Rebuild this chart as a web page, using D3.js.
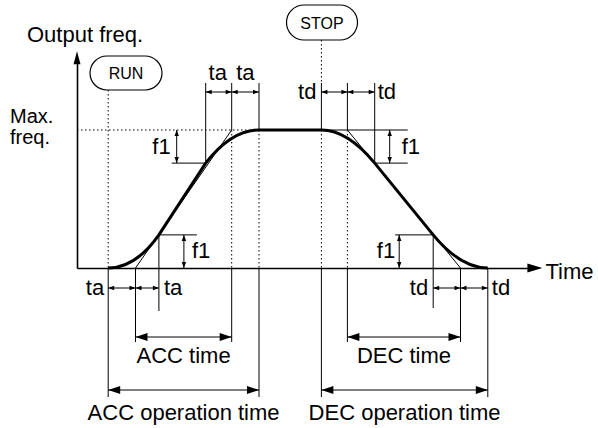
<!DOCTYPE html>
<html>
<head>
<meta charset="utf-8">
<script src="https://cdn.jsdelivr.net/npm/d3@7"></script>
<style>
  body { margin: 0; background: #fff; }
  text { font-family: "Liberation Sans", Arial, Helvetica, sans-serif; fill: #000; }
</style>
</head>
<body>
<svg id="chart" width="598" height="428"></svg>
<script>
// key time points (ta = td = 1 unit) and frequency levels (% of max)
const accTimes = [0, 1.05, 1.95, 3.75, 4.75, 5.8];     // RUN, foot, f1, max-f1, corner, max reached
const accFreq  = [0, 0, 24, 76, 100, 100];
const decTimes = [8.2, 9.2, 10.25, 12.5, 13.55, 14.6]; // STOP, corner, max-f1, f1, foot, stopped
const decFreq  = [100, 100, 76, 24, 0, 0];
const f1 = 24;
const maxFreq = 100;

const axisLabels = ["Output freq.", "Time"];
const maxLabel = ["Max.", "freq."];
const cmdLabels = ["RUN", "STOP"];
const spanLabels = ["ACC time", "DEC time", "ACC operation time", "DEC operation time"];

const svg = d3.select("#chart");
const width = 598, height = 428;

const x = d3.scaleLinear().domain([-1.2, 16.8]).range([77, 545]);
const y = d3.scaleLinear().domain([0, maxFreq]).range([268, 130]);

// layout rows (px)
const topTick = 83, topDim = 92;
const rowTa = 288, rowTime = 337, rowOp = 390;
const endTa = 311, endTime = 342, endOp = 397;

function seg(x1, y1, x2, y2, w, dash) {
    svg.append("line")
       .attr("x1", x1).attr("y1", y1).attr("x2", x2).attr("y2", y2)
       .attr("stroke", "#000")
       .attr("stroke-width", w || 1)
       .attr("stroke-dasharray", dash || null);
}
const dot = "1.5,2.5";

function head(tx, ty, dx, dy, len, hw) {
    // triangle with tip at (tx,ty) pointing along (dx,dy)
    const bx = tx - dx * len, by = ty - dy * len;
    const px = -dy * hw, py = dx * hw;
    svg.append("path")
       .attr("d", `M${tx},${ty}L${bx + px},${by + py}L${bx - px},${by - py}Z`)
       .attr("fill", "#000");
}

function hDim(xa, xb, yy, len, hw) {
    seg(xa, yy, xb, yy, 1);
    head(xa, yy, -1, 0, len, hw);
    head(xb, yy, 1, 0, len, hw);
}
function vDim(xx, ya, yb) {
    seg(xx, ya, xx, yb, 1);
    head(xx, ya, 0, -1, 6, 2.2);
    head(xx, yb, 0, 1, 6, 2.2);
}

function label(txt, tx, ty, anchor, size) {
    svg.append("text")
       .attr("x", tx).attr("y", ty)
       .attr("text-anchor", anchor || "start")
       .style("font-size", (size || 22) + "px")
       .text(txt);
}

// axes (no ticks, only the domain line)
const xAxisEnd = x(16.7);
const xAxis = svg.append("g")
    .attr("transform", `translate(0,${y(0)})`)
    .call(d3.axisBottom(d3.scaleLinear().range([x(-1.2), xAxisEnd - 8])).tickValues([]).tickSizeOuter(0));
const yAxis = svg.append("g")
    .attr("transform", `translate(${x(-1.2)},0)`)
    .call(d3.axisLeft(d3.scaleLinear().range([y(0), y(157) + 8])).tickValues([]).tickSizeOuter(0));
svg.selectAll(".domain").attr("stroke", "#000").attr("stroke-width", 1.6);
head(xAxisEnd, y(0), 1, 0, 15, 4.5);
head(x(-1.2), y(157), 0, -1, 13, 3.5);

label(axisLabels[0], 27, 42);
label(axisLabels[1], xAxisEnd + 3, y(0) + 11);
label(maxLabel[0], 10, 123, "start", 20);
label(maxLabel[1], 10, 144, "start", 20);

// max frequency dotted guide
seg(x(-1.2), y(maxFreq), x(accTimes[5]), y(maxFreq), 1, dot);

// RUN / STOP commands
const boxes = [
    {t: accTimes[0], cx: 126, top: 56, bottom: 90, w: 72},
    {t: decTimes[0], cx: 322, top: 5, bottom: 40, w: 71}
];
boxes.forEach((b, i) => {
    const h = b.bottom - b.top;
    svg.append("rect")
       .attr("x", b.cx - b.w / 2).attr("y", b.top)
       .attr("width", b.w).attr("height", h)
       .attr("rx", h / 2).attr("ry", h / 2)
       .attr("fill", "none").attr("stroke", "#000").attr("stroke-width", 1.2);
    label(cmdLabels[i], b.cx, (b.top + b.bottom) / 2 + 6, "middle", 16);
});

// guide lines: ACC side
seg(x(accTimes[0]), 90, x(accTimes[0]), y(0), 1, dot);
seg(x(accTimes[0]), y(0), x(accTimes[0]), endOp, 1);
seg(x(accTimes[1]), y(0), x(accTimes[1]), endTime, 1);
seg(x(accTimes[2]), y(f1), x(accTimes[2]), endTa, 1);
seg(x(accTimes[3]), topTick, x(accTimes[3]), y(maxFreq - f1), 1);
seg(x(accTimes[4]), topTick, x(accTimes[4]), y(maxFreq), 1);
seg(x(accTimes[4]), y(maxFreq), x(accTimes[4]), y(0), 1, dot);
seg(x(accTimes[4]), y(0), x(accTimes[4]), endTime, 1);
seg(x(accTimes[5]), topTick, x(accTimes[5]), y(maxFreq), 1);
seg(x(accTimes[5]), y(maxFreq), x(accTimes[5]), y(0), 1, dot);
seg(x(accTimes[5]), y(0), x(accTimes[5]), endOp, 1);

// guide lines: DEC side
seg(x(decTimes[0]), 40, x(decTimes[0]), topTick, 1, dot);
seg(x(decTimes[0]), topTick, x(decTimes[0]), y(maxFreq), 1);
seg(x(decTimes[0]), y(maxFreq), x(decTimes[0]), y(0), 1, dot);
seg(x(decTimes[0]), y(0), x(decTimes[0]), endOp, 1);
seg(x(decTimes[1]), topTick, x(decTimes[1]), y(maxFreq), 1);
seg(x(decTimes[1]), y(maxFreq), x(decTimes[1]), y(0), 1, dot);
seg(x(decTimes[1]), y(0), x(decTimes[1]), endTime, 1);
seg(x(decTimes[2]), topTick, x(decTimes[2]), y(maxFreq - f1), 1);
seg(x(decTimes[3]), y(f1), x(decTimes[3]), endTa - 3, 1);
seg(x(decTimes[4]), y(0), x(decTimes[4]), endTime, 1);
seg(x(decTimes[5]), y(0), x(decTimes[5]), endOp, 1);

// f1 markers
seg(x(accTimes[3]) - 34, y(maxFreq - f1), x(accTimes[3]), y(maxFreq - f1), 1);
vDim(x(accTimes[3]) - 29, y(maxFreq), y(maxFreq - f1));
label("f1", x(accTimes[3]) - 35, y(maxFreq - f1 / 2) + 7, "end");

seg(x(accTimes[2]), y(f1), x(accTimes[2]) + 38, y(f1), 1);
vDim(x(accTimes[2]) + 25, y(f1), y(0));
label("f1", x(accTimes[2]) + 33, y(f1 / 2) + 7, "start");

seg(x(decTimes[0]), y(maxFreq), x(decTimes[2]) + 33, y(maxFreq), 1);
seg(x(decTimes[2]), y(maxFreq - f1), x(decTimes[2]) + 33, y(maxFreq - f1), 1);
vDim(x(decTimes[2]) + 15, y(maxFreq), y(maxFreq - f1));
label("f1", x(decTimes[2]) + 27, y(maxFreq - f1 / 2) + 7, "start");

seg(x(decTimes[3]) - 38, y(f1), x(decTimes[3]), y(f1), 1);
vDim(x(decTimes[3]) - 34, y(f1), y(0));
label("f1", x(decTimes[3]) - 38, y(f1 / 2) + 7, "end");

// tangent (linear) lines, thin
seg(x(accTimes[1]), y(accFreq[1]), x(accTimes[4]), y(accFreq[4]), 1);
seg(x(decTimes[1]), y(decFreq[1]), x(decTimes[4]), y(decFreq[4]), 1);

// S-curve output frequency
const p = d3.path();
p.moveTo(x(accTimes[0]), y(accFreq[0]));
p.quadraticCurveTo(x(accTimes[1]), y(accFreq[1]), x(accTimes[2]), y(accFreq[2]));
p.lineTo(x(accTimes[3]), y(accFreq[3]));
p.quadraticCurveTo(x(accTimes[4]), y(accFreq[4]), x(accTimes[5]), y(accFreq[5]));
p.lineTo(x(decTimes[0]), y(decFreq[0]));
p.quadraticCurveTo(x(decTimes[1]), y(decFreq[1]), x(decTimes[2]), y(decFreq[2]));
p.lineTo(x(decTimes[3]), y(decFreq[3]));
p.quadraticCurveTo(x(decTimes[4]), y(decFreq[4]), x(decTimes[5]), y(decFreq[5]));
svg.append("path")
   .attr("d", p.toString())
   .attr("fill", "none")
   .attr("stroke", "#000")
   .attr("stroke-width", 3)
   .attr("stroke-linejoin", "round");

// ta / td dimension marks
hDim(x(accTimes[3]), x(accTimes[4]), topDim, 6, 2.2);
hDim(x(accTimes[4]), x(accTimes[5]), topDim, 6, 2.2);
label("ta", (x(accTimes[3]) + x(accTimes[4])) / 2 - 1, 80, "middle");
label("ta", (x(accTimes[4]) + x(accTimes[5])) / 2, 80, "middle");

hDim(x(decTimes[0]), x(decTimes[1]), topDim, 6, 2.2);
hDim(x(decTimes[1]), x(decTimes[2]), topDim, 6, 2.2);
label("td", x(decTimes[0]) - 5, topDim + 7, "end");
label("td", x(decTimes[2]) + 3, topDim + 7, "start");

hDim(x(accTimes[0]), x(accTimes[1]), rowTa, 6, 2.2);
hDim(x(accTimes[1]), x(accTimes[2]), rowTa, 6, 2.2);
label("ta", x(accTimes[0]) - 4, rowTa + 7, "end");
label("ta", x(accTimes[2]) + 5, rowTa + 7, "start");

hDim(x(decTimes[3]), x(decTimes[4]), rowTa, 6, 2.2);
hDim(x(decTimes[4]), x(decTimes[5]), rowTa, 6, 2.2);
label("td", x(decTimes[3]) - 5, rowTa + 7, "end");
label("td", x(decTimes[5]) + 4, rowTa + 7, "start");

// ACC / DEC spans
hDim(x(accTimes[1]), x(accTimes[4]), rowTime, 12, 4);
label(spanLabels[0], (x(accTimes[1]) + x(accTimes[4])) / 2, rowTime + 26, "middle");
hDim(x(decTimes[1]), x(decTimes[4]), rowTime, 12, 4);
label(spanLabels[1], (x(decTimes[1]) + x(decTimes[4])) / 2, rowTime + 26, "middle");

hDim(x(accTimes[0]), x(accTimes[5]), rowOp, 12, 4);
label(spanLabels[2], (x(accTimes[0]) + x(accTimes[5])) / 2, rowOp + 30, "middle");
hDim(x(decTimes[0]), x(decTimes[5]), rowOp, 12, 4);
label(spanLabels[3], (x(decTimes[0]) + x(decTimes[5])) / 2, rowOp + 30, "middle");
</script>
</body>
</html>
